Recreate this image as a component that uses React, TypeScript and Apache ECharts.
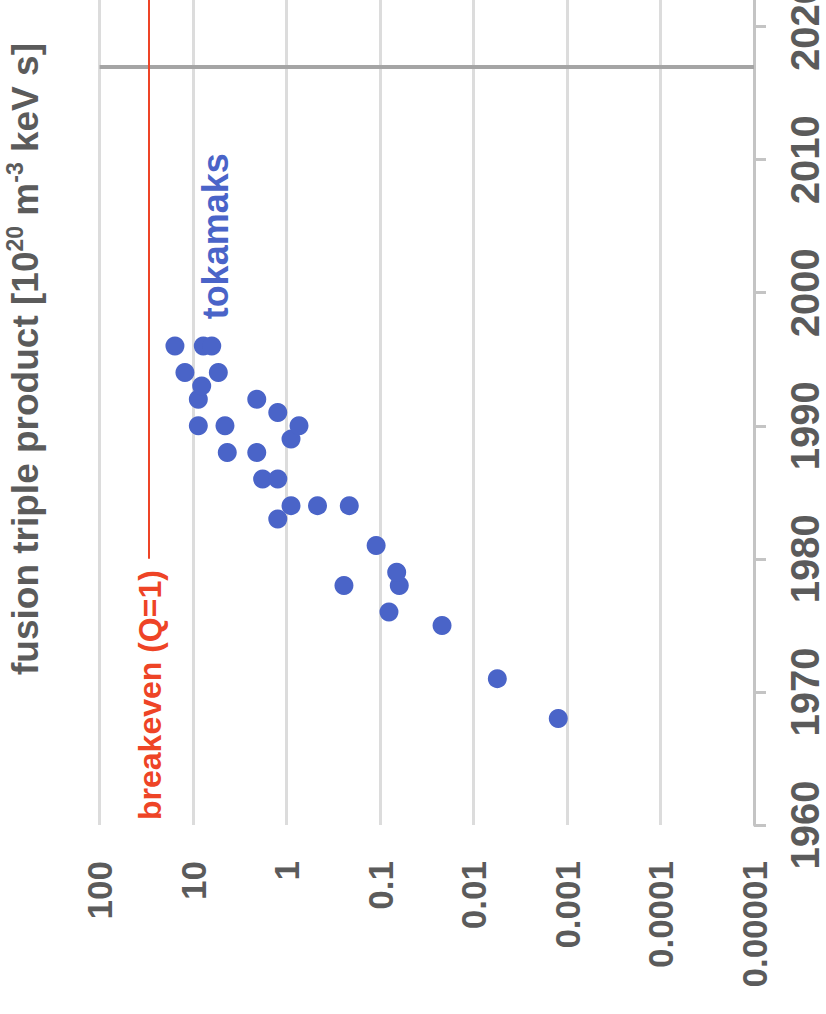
import React, { useEffect, useRef } from 'react';
import * as echarts from 'echarts';

// Tokamak results: year and fusion triple product [10^20 m^-3 keV s]
const years = [1968, 1971, 1975, 1976, 1978, 1978, 1979, 1981, 1983, 1984, 1984, 1984, 1986, 1986, 1988, 1988, 1989, 1990, 1990, 1990, 1991, 1992, 1992, 1993, 1994, 1994, 1996, 1996, 1996];
const tripleProduct = [0.00124, 0.00556, 0.0217, 0.0802, 0.243, 0.0622, 0.0663, 0.11, 1.24, 0.895, 0.466, 0.213, 1.8, 1.24, 4.3, 2.08, 0.895, 8.77, 4.55, 0.735, 1.24, 8.77, 2.08, 8.07, 12.2, 5.36, 15.6, 7.76, 6.3];

const yearTicks = [1960, 1970, 1980, 1990, 2000, 2010, 2020];
const valueTickLabels = ['100', '10', '1', '0.1', '0.01', '0.001', '0.0001', '0.00001'];

const breakevenValue = 30;
const breakevenFromYear = 1980;
const currentYear = 2017;

const FONT = '"Liberation Sans", Arial, Helvetica, sans-serif';
const GREY_TEXT = '#5b5b5b';
const BLUE = '#4a64c8';
const RED = '#ee4426';

export default function App() {
  const ref = useRef<HTMLDivElement>(null);

  useEffect(() => {
    if (!ref.current) return;
    const chart = echarts.init(ref.current, undefined, { renderer: 'svg' });
    const option: any = {
      animation: false,
      grid: { left: 99.5, right: 72, top: 0, bottom: 189, containLabel: false, outerBoundsMode: 'none' },
      xAxis: {
        type: 'log',
        logBase: 10,
        min: 0.00001,
        max: 100,
        inverse: true,
        axisLine: { show: false },
        axisTick: { show: false },
        minorTick: { show: false },
        splitLine: { show: true, lineStyle: { color: '#dcdcdc', width: 3 } },
        axisLabel: {
          rotate: 90,
          margin: 36,
          fontSize: 35,
          fontWeight: 'bold',
          color: GREY_TEXT,
          fontFamily: FONT,
          formatter: (v: number) => valueTickLabels[2 - Math.round(Math.log10(v))] ?? '',
        },
      },
      yAxis: {
        type: 'value',
        position: 'right',
        min: 1960,
        max: 2022,
        interval: 10,
        axisLine: { show: true, lineStyle: { color: '#c4c4c4', width: 3 } },
        axisTick: { show: true, length: 12, lineStyle: { color: '#c4c4c4', width: 3 }, customValues: yearTicks },
        splitLine: { show: false },
        axisLabel: {
          rotate: 90,
          margin: 31,
          fontSize: 40,
          fontWeight: 'bold',
          color: GREY_TEXT,
          fontFamily: FONT,
          customValues: yearTicks,
          formatter: (v: number) => String(Math.round(v)),
        },
      },
      series: [
        {
          type: 'scatter',
          data: years.map((y, i) => [tripleProduct[i], y]),
          symbol: 'circle',
          symbolSize: 19,
          itemStyle: { color: BLUE, opacity: 1 },
          z: 4,
          markLine: {
            silent: true,
            symbol: ['none', 'none'],
            label: { show: false },
            emphasis: { disabled: true },
            z: 3,
            data: [
              { yAxis: currentYear, lineStyle: { color: '#a5a5a5', width: 4, type: 'solid' } },
              [
                { coord: [breakevenValue, breakevenFromYear], lineStyle: { color: RED, width: 2, type: 'solid' } },
                { coord: [breakevenValue, 2022], lineStyle: { color: RED, width: 2, type: 'solid' } },
              ],
            ],
          },
        },
      ],
    };
    chart.setOption(option);

    const pB = chart.convertToPixel({ gridIndex: 0 }, [breakevenValue, 1960]) as number[];
    const pT = chart.convertToPixel({ gridIndex: 0 }, [5.75, 1998]) as number[];

    chart.setOption({
      graphic: [
        {
          type: 'text',
          x: pB[0] + 2,
          y: pB[1] - 5,
          rotation: Math.PI / 2,
          silent: true,
          style: {
            text: 'breakeven (Q=1)',
            fill: RED,
            fontSize: 32,
            fontWeight: 'bold',
            fontFamily: FONT,
            align: 'left',
            verticalAlign: 'middle',
          },
        },
        {
          type: 'text',
          x: pT[0],
          y: pT[1],
          rotation: Math.PI / 2,
          silent: true,
          style: {
            text: 'tokamaks',
            fill: BLUE,
            fontSize: 36,
            fontWeight: 'bold',
            fontFamily: FONT,
            align: 'left',
            verticalAlign: 'middle',
          },
        },
        {
          type: 'text',
          x: 23,
          y: 675,
          rotation: Math.PI / 2,
          silent: true,
          style: {
            text: '{t|fusion triple product [10}{s|20}{t| m}{s|-3}{t| keV s]}',
            align: 'left',
            verticalAlign: 'middle',
            rich: {
              t: { fontSize: 37, fontWeight: 'bold', fontFamily: FONT, fill: GREY_TEXT, lineHeight: 41, verticalAlign: 'bottom' },
              s: { fontSize: 23, fontWeight: 'bold', fontFamily: FONT, fill: GREY_TEXT, lineHeight: 41, verticalAlign: 'top', padding: [1, 0, 0, 0] },
            },
          },
        },
      ],
    });

    return () => chart.dispose();
  }, []);

  return <div ref={ref} style={{ position: 'absolute', left: 0, top: 0, width: 826, height: 1014 }} />;
}
